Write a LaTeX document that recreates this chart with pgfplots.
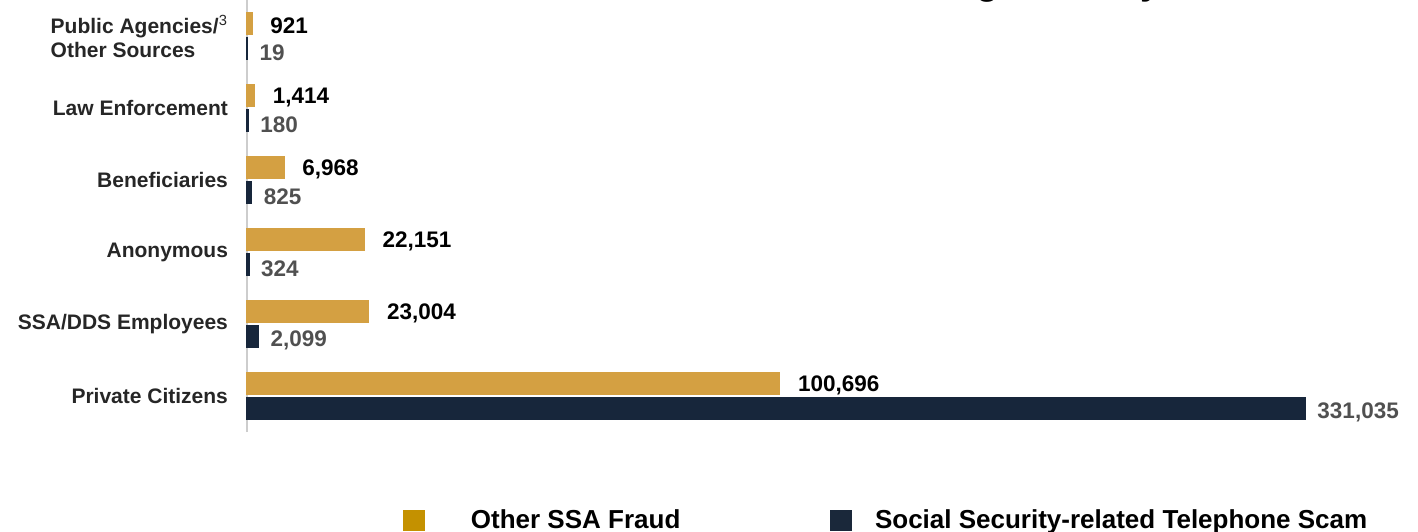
\documentclass[border=0pt]{standalone}
\usepackage{pgfplots}
\pgfplotsset{compat=1.18}
\usepackage{pgfplotstable}
\usepackage{fontspec}
\setmainfont{Liberation Sans}

\definecolor{goldbar}{RGB}{212,160,66}
\definecolor{goldkey}{RGB}{196,145,0}
\definecolor{navybar}{RGB}{23,38,59}
\definecolor{navykey}{RGB}{26,40,58}
\definecolor{scamlbl}{RGB}{80,80,80}
\definecolor{axisgray}{RGB}{205,205,205}

% pos 0 = bottom row
\pgfplotstableread{
pos fraud  scam
0   100696 331035
1   23004  2099
2   22151  324
3   6968   825
4   1414   180
5   921    19
}\allegations

\begin{document}
\begin{tikzpicture}
\useasboundingbox (0,0) rectangle (709pt,265.5pt);

% title, mostly above the page
\node[anchor=base west, inner sep=0pt, font=\fontsize{18.5}{22}\selectfont\bfseries]
  at (454pt,268pt) {Allegations by Source};

\begin{axis}[
  at={(123.5pt,49.5pt)}, anchor=south west,
  scale only axis, width=529pt, height=216pt,
  xmin=0, xmax=200000, ymin=-0.5, ymax=5.5,
  clip=false,
  axis x line=none,
  axis y line*=left,
  y axis line style={draw=axisgray, line width=0.8pt, -},
  ytick={0,1,2,3,4,5},
  yticklabels={Private Citizens, SSA/DDS Employees, Anonymous, Beneficiaries,
    Law Enforcement, {Public Agencies/\textsuperscript{\mdseries 3}\\Other Sources}},
  major tick length=0pt,
  yticklabel style={font=\fontsize{10.5}{12}\selectfont\bfseries, text=black!85,
    align=left, xshift=-6pt},
  xbar, bar width=10.7pt,
  point meta=explicit,
  nodes near coords={\pgfmathprintnumber[fixed,precision=0,1000 sep={,},
    assume math mode=true]{\pgfplotspointmeta}},
  legend columns=2,
  legend style={draw=none, fill=none, inner sep=0pt,
    at={(axis description cs:0.1474,-0.205)}, anchor=west,
    nodes={inner sep=0pt, font=\fontsize{13}{15}\selectfont\bfseries},
    /tikz/column 1/.style={column sep=23pt},
    /tikz/column 2/.style={column sep=75pt},
    /tikz/column 3/.style={column sep=11.5pt}},
  legend cell align=left,
]
\addplot[fill=goldbar, draw=goldbar, line width=0.8pt, bar shift=6.25pt,
  nodes near coords style={anchor=west, xshift=5.5pt, yshift=-1pt,
    font=\fontsize{11.25}{13}\selectfont\bfseries, text=black},
  legend image code/.code={\fill[goldkey] (0pt,-5pt) rectangle (10pt,5pt);}]
  table[y=pos, x=fraud, meta=fraud] {\allegations};
\addlegendentry{Other SSA Fraud}

\addplot[fill=navybar, draw=navybar, line width=0.8pt, bar shift=-6.25pt,
  nodes near coords style={anchor=west, xshift=2.5pt, yshift=-2pt,
    font=\fontsize{11.25}{13}\selectfont\bfseries, text=scamlbl},
  legend image code/.code={\fill[navykey] (0pt,-5pt) rectangle (10pt,5pt);}]
  table[y=pos, x expr={min(\thisrow{scam},200000)}, meta=scam] {\allegations};
\addlegendentry{Social Security-related Telephone Scam}
\end{axis}
\end{tikzpicture}
\end{document}
